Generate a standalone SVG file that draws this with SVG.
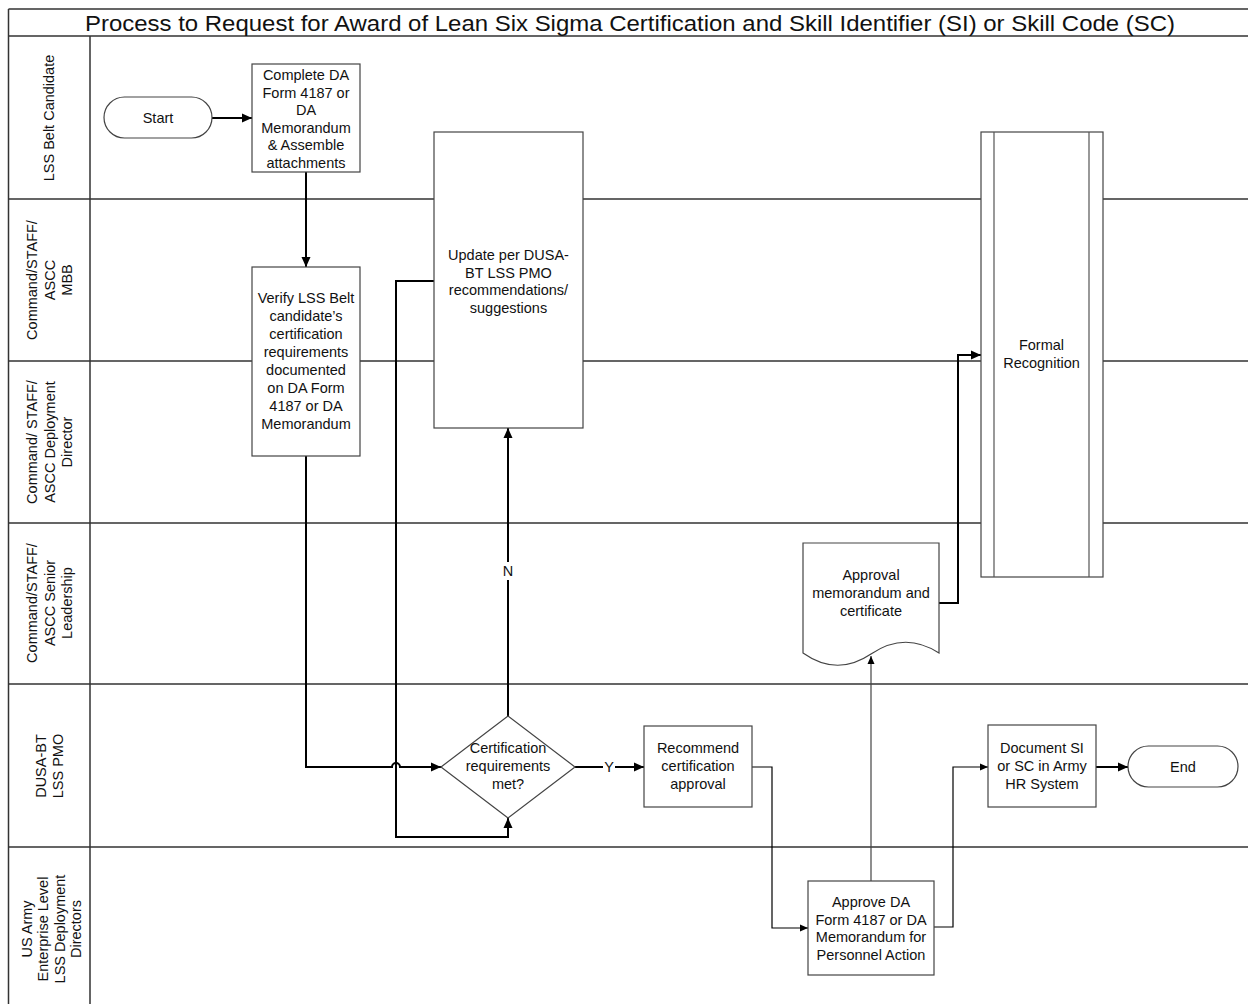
<svg xmlns="http://www.w3.org/2000/svg" width="1248" height="1004" viewBox="0 0 1248 1004">
<style>
text{font-family:"Liberation Sans",Arial,sans-serif;font-size:14.5px;fill:#111;}
.title{font-size:21.5px;}
.lane{stroke:#333;stroke-width:1.5;fill:none;}
.node{fill:#fff;stroke:#444;stroke-width:1.2;}
.inner{stroke:#555;stroke-width:1.2;fill:none;}
.bold{fill:none;stroke:#000;stroke-width:2;}
.thin{fill:none;stroke:#000;stroke-width:1.2;}
.gray{fill:none;stroke:#444;stroke-width:1.2;}
.c{text-anchor:middle;}
</style>
<defs>
<marker id="ab" markerUnits="userSpaceOnUse" markerWidth="11" markerHeight="10" refX="10" refY="5" orient="auto"><path d="M0,0.5 L10,5 L0,9.5 z" fill="#000"/></marker>
<marker id="at" markerUnits="userSpaceOnUse" markerWidth="9" markerHeight="8" refX="8" refY="4" orient="auto"><path d="M0,0.5 L8,4 L0,7.5 z" fill="#000"/></marker>
</defs>
<rect width="1248" height="1004" fill="#fff"/>
<g id="frame">
<path class="lane" d="M8.5,9 H1248 M8.5,36 H1248 M8.5,9 V1004 M90,36 V1004 M8.5,199 H1248 M8.5,361 H1248 M8.5,523 H1248 M8.5,684 H1248 M8.5,847 H1248"/>
<text class="title c" x="630" y="31" textLength="1090" lengthAdjust="spacingAndGlyphs">Process to Request for Award of Lean Six Sigma Certification and Skill Identifier (SI) or Skill Code (SC)</text>
</g>
<g id="lane-labels">
<text class="c" transform="translate(0,118) rotate(-90)"><tspan x="0" y="53.5">LSS Belt Candidate</tspan></text>
<text class="c" transform="translate(0,280) rotate(-90)"><tspan x="0" y="37">Command/STAFF/</tspan><tspan x="0" y="54.5">ASCC</tspan><tspan x="0" y="72">MBB</tspan></text>
<text class="c" transform="translate(0,442) rotate(-90)"><tspan x="0" y="37">Command/ STAFF/</tspan><tspan x="0" y="54.5">ASCC Deployment</tspan><tspan x="0" y="72">Director</tspan></text>
<text class="c" transform="translate(0,603) rotate(-90)"><tspan x="0" y="37">Command/STAFF/</tspan><tspan x="0" y="54.5">ASCC Senior</tspan><tspan x="0" y="72">Leadership</tspan></text>
<text class="c" transform="translate(0,766) rotate(-90)"><tspan x="0" y="45.5">DUSA-BT</tspan><tspan x="0" y="62.5">LSS PMO</tspan></text>
<text class="c" transform="translate(0,929) rotate(-90)"><tspan x="0" y="31.5">US Army</tspan><tspan x="0" y="48">Enterprise Level</tspan><tspan x="0" y="64.5">LSS Deployment</tspan><tspan x="0" y="81">Directors</tspan></text>
</g>
<g id="connectors">
<path class="bold" d="M212,118 H252" marker-end="url(#ab)"/>
<path class="bold" d="M306,172 V267" marker-end="url(#ab)"/>
<path class="bold" d="M306,456 V767 H392 A4,4 0 0 1 400,767 H441" marker-end="url(#ab)"/>
<path class="bold" d="M434,281 H396 V837 H508 V818" marker-end="url(#ab)"/>
<path class="bold" d="M508,716 V428" marker-end="url(#ab)"/>
<path class="bold" d="M575,767 H644" marker-end="url(#ab)"/>
<path class="thin" d="M752,767 H772 V928 H808" marker-end="url(#at)"/>
<path class="gray" d="M871,881 V656" marker-end="url(#at)"/>
<path class="bold" d="M939,603 H958 V355 H981" marker-end="url(#ab)"/>
<path class="thin" d="M934,927 H953 V767 H988" marker-end="url(#at)"/>
<path class="bold" d="M1096,767 H1128" marker-end="url(#ab)"/>
<rect x="501" y="562" width="14" height="18" fill="#fff"/>
<text class="c" x="508" y="576">N</text>
<rect x="603" y="758" width="12" height="18" fill="#fff"/>
<text class="c" x="609" y="772">Y</text>
</g>
<g id="start">
<rect class="node" x="104" y="97" width="108" height="41" rx="20.5"/>
<text class="c" x="158" y="123">Start</text>
</g>
<g id="complete-form">
<rect class="node" x="252" y="64" width="108" height="108"/>
<text class="c"><tspan x="306" y="80">Complete DA</tspan><tspan x="306" y="97.5">Form 4187 or</tspan><tspan x="306" y="115">DA</tspan><tspan x="306" y="132.5">Memorandum</tspan><tspan x="306" y="150">&amp; Assemble</tspan><tspan x="306" y="168">attachments</tspan></text>
</g>
<g id="verify">
<rect class="node" x="252" y="267" width="108" height="189"/>
<text class="c"><tspan x="306" y="303">Verify LSS Belt</tspan><tspan x="306" y="321">candidate’s</tspan><tspan x="306" y="339">certification</tspan><tspan x="306" y="357">requirements</tspan><tspan x="306" y="375">documented</tspan><tspan x="306" y="393">on DA Form</tspan><tspan x="306" y="411">4187 or DA</tspan><tspan x="306" y="429">Memorandum</tspan></text>
</g>
<g id="update">
<rect class="node" x="434" y="132" width="149" height="296"/>
<text class="c"><tspan x="508.5" y="260">Update per DUSA-</tspan><tspan x="508.5" y="277.5">BT LSS PMO</tspan><tspan x="508.5" y="295">recommendations/</tspan><tspan x="508.5" y="312.5">suggestions</tspan></text>
</g>
<g id="decision">
<path class="node" d="M441,767 L508,716 L575,767 L508,818 Z"/>
<text class="c"><tspan x="508" y="753">Certification</tspan><tspan x="508" y="771">requirements</tspan><tspan x="508" y="789">met?</tspan></text>
</g>
<g id="recommend">
<rect class="node" x="644" y="726" width="108" height="81"/>
<text class="c"><tspan x="698" y="753">Recommend</tspan><tspan x="698" y="771">certification</tspan><tspan x="698" y="789">approval</tspan></text>
</g>
<g id="approval-doc">
<path class="node" d="M803,543 H939 V653 Q905,631 871,654 Q837,677 803,653 Z"/>
<text class="c"><tspan x="871" y="580">Approval</tspan><tspan x="871" y="598">memorandum and</tspan><tspan x="871" y="615.5">certificate</tspan></text>
</g>
<g id="formal-recognition">
<rect class="node" x="981" y="132" width="122" height="445"/>
<path class="inner" d="M994,132 V577 M1089,132 V577"/>
<text class="c"><tspan x="1041.5" y="350">Formal</tspan><tspan x="1041.5" y="368">Recognition</tspan></text>
</g>
<g id="approve">
<rect class="node" x="808" y="881" width="126" height="94"/>
<text class="c"><tspan x="871" y="906.5">Approve DA</tspan><tspan x="871" y="924.5">Form 4187 or DA</tspan><tspan x="871" y="942">Memorandum for</tspan><tspan x="871" y="960">Personnel Action</tspan></text>
</g>
<g id="document">
<rect class="node" x="988" y="725" width="108" height="82"/>
<text class="c"><tspan x="1042" y="753">Document SI</tspan><tspan x="1042" y="771">or SC in Army</tspan><tspan x="1042" y="789">HR System</tspan></text>
</g>
<g id="end">
<rect class="node" x="1128" y="746" width="110" height="41" rx="20.5"/>
<text class="c" x="1183" y="772">End</text>
</g>
</svg>
